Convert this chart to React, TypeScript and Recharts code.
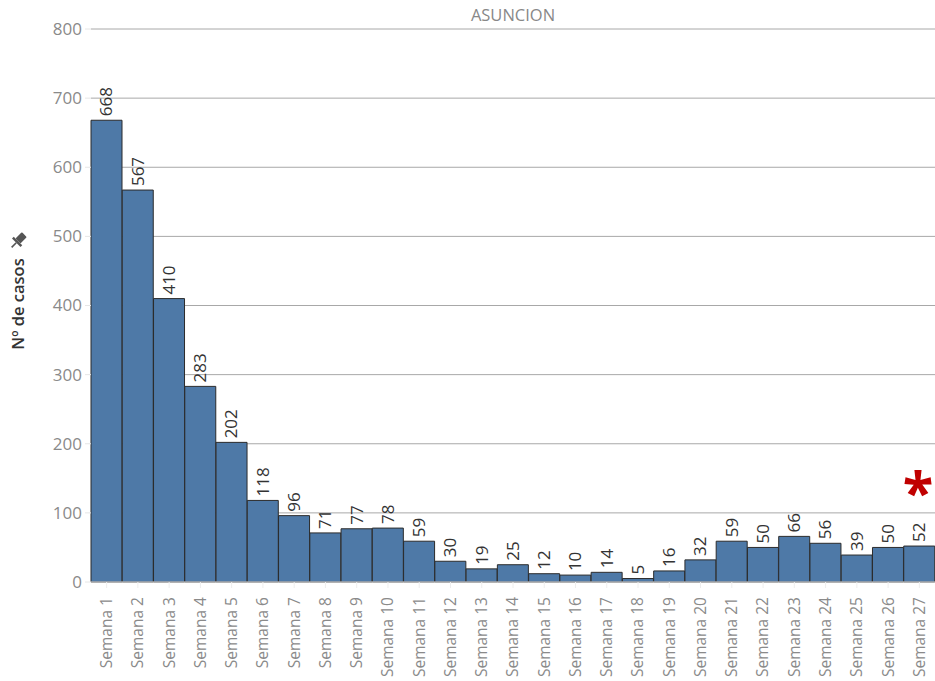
import React from "react";
import { BarChart, Bar, XAxis, YAxis, CartesianGrid, LabelList } from "recharts";

const weeks = [
  "Semana 1", "Semana 2", "Semana 3", "Semana 4", "Semana 5", "Semana 6", "Semana 7",
  "Semana 8", "Semana 9", "Semana 10", "Semana 11", "Semana 12", "Semana 13", "Semana 14",
  "Semana 15", "Semana 16", "Semana 17", "Semana 18", "Semana 19", "Semana 20", "Semana 21",
  "Semana 22", "Semana 23", "Semana 24", "Semana 25", "Semana 26", "Semana 27",
];
const cases = [668, 567, 410, 283, 202, 118, 96, 71, 77, 78, 59, 30, 19, 25, 12, 10, 14, 5, 16, 32, 59, 50, 66, 56, 39, 50, 52];
const yTicks = [0, 100, 200, 300, 400, 500, 600, 700, 800];

const data = weeks.map((w, i) => ({ week: w, casos: cases[i] }));

const FONT = "'Open Sans', 'Noto Sans', sans-serif";

const XTick = (props: any) => {
  const { x, y, payload } = props;
  return (
    <text
      x={x}
      y={y + 7}
      transform={`rotate(-90 ${x} ${y + 7})`}
      textAnchor="end"
      dy="0.35em"
      fontSize={15.5}
      fontFamily={FONT}
      fill="#8a8a8a"
    >
      {payload.value}
    </text>
  );
};

const YTick = (props: any) => {
  const { y, payload } = props;
  return (
    <text
      x={82}
      y={y}
      textAnchor="end"
      dy="0.35em"
      fontSize={17}
      fontFamily={FONT}
      fill="#8a8a8a"
    >
      {payload.value}
    </text>
  );
};

const ValueLabel = (props: any) => {
  const { x, y, width, value } = props;
  const cx = x + width / 2;
  const cy = y - 4;
  return (
    <text
      x={cx}
      y={cy}
      transform={`rotate(-90 ${cx} ${cy})`}
      textAnchor="start"
      dy="0.35em"
      fontSize={17}
      fontFamily={FONT}
      fill="#333"
    >
      {value}
    </text>
  );
};

const YLabel = () => (
  <g>
    <text
      x={18}
      y={304}
      transform="rotate(-90 18 304)"
      textAnchor="middle"
      dy="0.35em"
      fontSize={16.5}
      fontWeight={600}
      fontFamily={FONT}
      fill="#333"
    >
      Nº de casos
    </text>
    <g transform="translate(18 241) rotate(45)">
      <rect x={-3.5} y={-9} width={7} height={9} rx={1} fill="#555" />
      <rect x={-6} y={0} width={12} height={2.5} fill="#555" />
      <line x1={0} y1={2.5} x2={0} y2={9} stroke="#555" strokeWidth={1.6} />
    </g>
  </g>
);

export default function App() {
  return (
    <div style={{ position: "absolute", left: 0, top: 0, width: 935, height: 681, background: "#fff", overflow: "hidden" }}>
      <div
        style={{
          position: "absolute",
          left: 91,
          width: 844,
          top: 3,
          textAlign: "center",
          fontFamily: FONT,
          fontSize: 16.5,
          color: "#888",
        }}
      >
        ASUNCION
      </div>
      <BarChart
        width={935}
        height={681}
        data={data}
        margin={{ top: 29, right: 0, left: 0, bottom: 0 }}
        barCategoryGap={0}
      >
        <CartesianGrid horizontal vertical={false} stroke="#a8a8a8" strokeWidth={1} />
        <XAxis
          dataKey="week"
          height={99}
          interval={0}
          tick={<XTick />}
          axisLine={{ stroke: "#e6e6e6" }}
          tickLine={{ stroke: "#eeeeee" }}
        />
        <YAxis
          width={91}
          domain={[0, 800]}
          ticks={yTicks}
          interval={0}
          axisLine={false}
          tickLine={{ stroke: "#e6e6e6" }}
          tickSize={6}
          tick={<YTick />}
          label={<YLabel />}
        />
        <Bar dataKey="casos" fill="#4e79a7" stroke="#2b2b2b" strokeWidth={1} isAnimationActive={false}>
          <LabelList dataKey="casos" content={<ValueLabel />} />
        </Bar>
      </BarChart>
      <div
        style={{
          position: "absolute",
          left: 902,
          width: 32,
          top: 462,
          textAlign: "center",
          fontFamily: FONT,
          fontSize: 56,
          fontWeight: 700,
          color: "#c00000",
          lineHeight: "56px",
        }}
      >
        *
      </div>
    </div>
  );
}
